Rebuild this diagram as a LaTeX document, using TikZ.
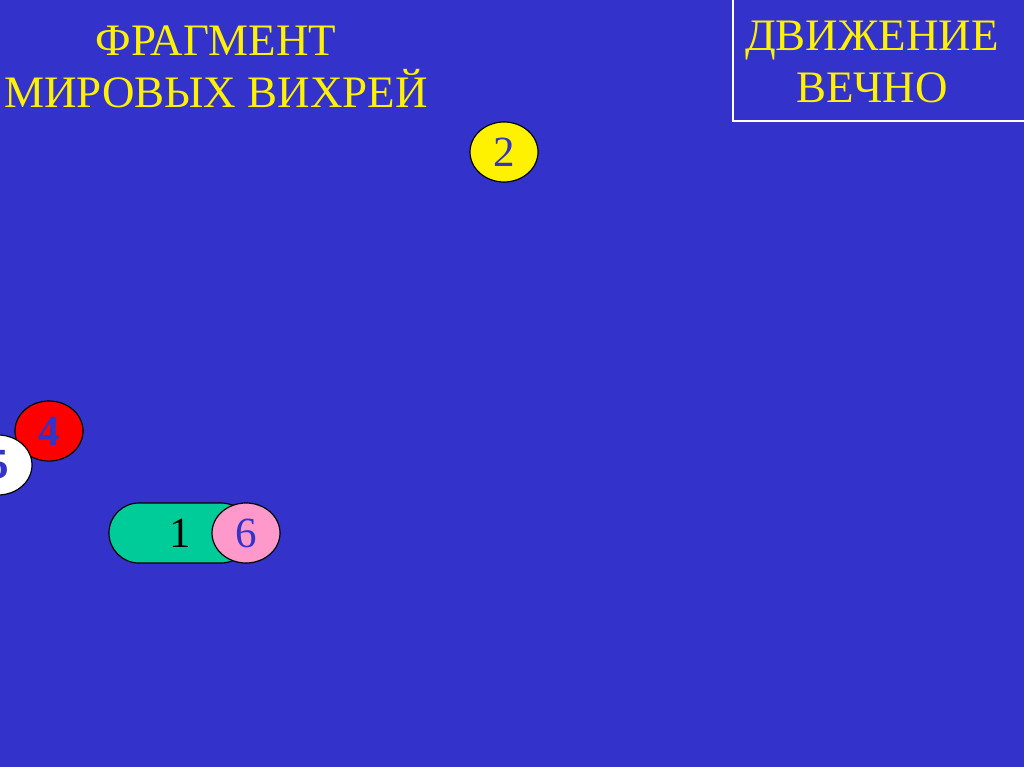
\documentclass[tikz,border=0pt]{standalone}
\usepackage{fontspec}
\setmainfont{Liberation Serif}
\usetikzlibrary{shapes.geometric}
\definecolor{bgblue}{HTML}{3333CC}
\definecolor{vortgreen}{HTML}{00CC99}
\definecolor{vortpink}{HTML}{FF99CC}
\tikzset{
  vort/.style={ellipse, draw=black, line width=1.2pt, minimum width=68pt, minimum height=60pt, inner sep=0pt, text=bgblue, font=\fontsize{43}{43}\selectfont},
  title/.style={text=yellow, align=center, font=\fontsize{45}{52}\selectfont}
}
\begin{document}
\begin{tikzpicture}[x=1pt, y=-1pt]
  \fill[bgblue] (0,0) rectangle (1024,767);
  \useasboundingbox (0,0) rectangle (1024,767);
  \draw[white, line width=2pt] (733,-5) rectangle (1030,121);
  \draw
    (216,67) node[title] (head) {ФРАГМЕНТ\\МИРОВЫХ ВИХРЕЙ}
    (872,62) node[title] (motto) {ДВИЖЕНИЕ\\ВЕЧНО};
  \draw
    (504,152) node[vort, fill=yellow] (2) {2}
    (49,431) node[vort, fill=red, font=\fontsize{43}{43}\selectfont\bfseries] (4) {4}
    (-2,465) node[vort, fill=white, font=\fontsize{43}{43}\selectfont\bfseries] (5) {5}
    (180,533) node[rectangle, rounded corners=30pt, draw=black, line width=1.2pt, fill=vortgreen, minimum width=142pt, minimum height=60pt, font=\fontsize{43}{43}\selectfont] (1) {1}
    (246,533) node[vort, fill=vortpink] (6) {6};
\end{tikzpicture}
\end{document}
